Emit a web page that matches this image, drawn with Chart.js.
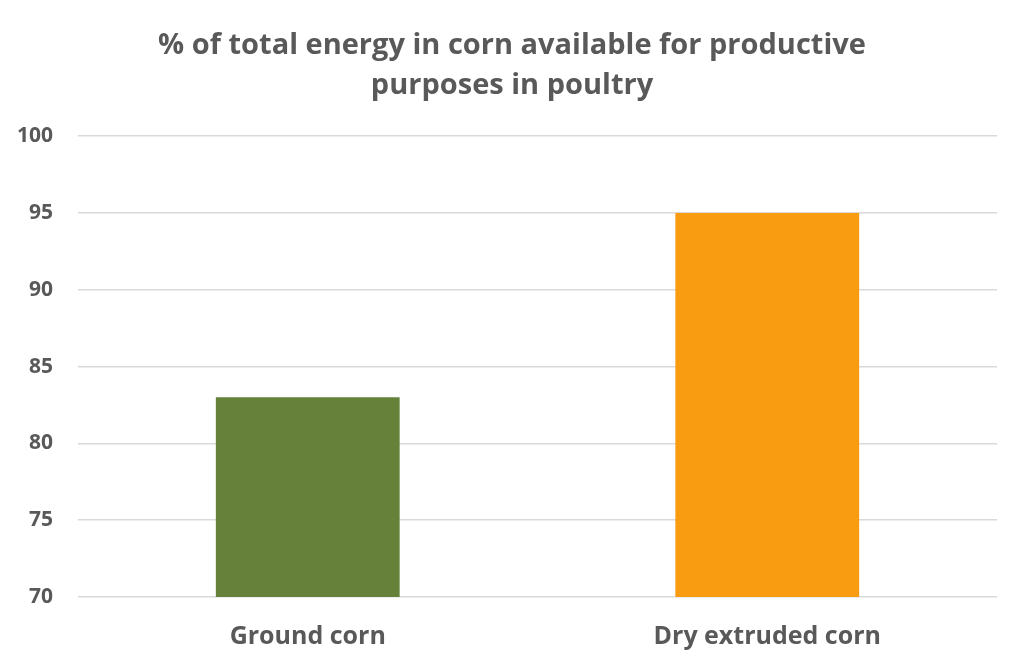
<!DOCTYPE html>
<html>
<head>
<meta charset="utf-8">
<script src="https://cdn.jsdelivr.net/npm/chart.js@4"></script>
<style>
html,body{margin:0;padding:0;background:#fff;}
#wrap{width:1024px;height:669px;position:relative;}
</style>
</head>
<body>
<div id="wrap"><canvas id="c" width="1024" height="669"></canvas></div>
<script>
const categories = ["Ground corn", "Dry extruded corn"];
const values = [83, 95];
const barColors = ["#668139", "#F99C11"];
const titleLines = ["% of total energy in corn available for productive", "purposes in poultry"];
const yMin = 70, yMax = 100, yStep = 5;

const centerTitle = {
  id: 'centerTitle',
  afterLayout(chart) {
    if (chart.titleBlock) { chart.titleBlock.left = 0; chart.titleBlock.right = chart.width; }
  }
};

new Chart(document.getElementById('c'), {
  type: 'bar',
  data: {
    labels: categories,
    datasets: [{
      data: values,
      backgroundColor: barColors,
      borderWidth: 0,
      barPercentage: 0.4,
      categoryPercentage: 1.0
    }]
  },
  plugins: [centerTitle],
  options: {
    responsive: false,
    animation: false,
    layout: { padding: { left: 0, right: 27, top: 25, bottom: 0 } },
    plugins: {
      legend: { display: false },
      tooltip: { enabled: false },
      title: {
        display: true,
        text: titleLines,
        color: '#595959',
        font: { family: 'Open Sans', size: 29, weight: 'bold', lineHeight: 1.4 },
        padding: { top: 0, bottom: 30 }
      }
    },
    scales: {
      x: {
        grid: { display: false, drawTicks: false },
        border: { display: false },
        ticks: { color: '#595959', font: { family: 'Open Sans', size: 25, weight: 'bold' }, padding: 25 },
        afterFit(s) { s.height = 72; }
      },
      y: {
        min: yMin, max: yMax,
        grid: { color: '#d9d9d9', lineWidth: 1.5, drawTicks: false },
        border: { display: false },
        ticks: { stepSize: yStep, color: '#595959', font: { family: 'Open Sans', size: 21, weight: 'bold' }, padding: 25 },
        afterFit(s) { s.width = 78; }
      }
    }
  }
});
</script>
</body>
</html>
